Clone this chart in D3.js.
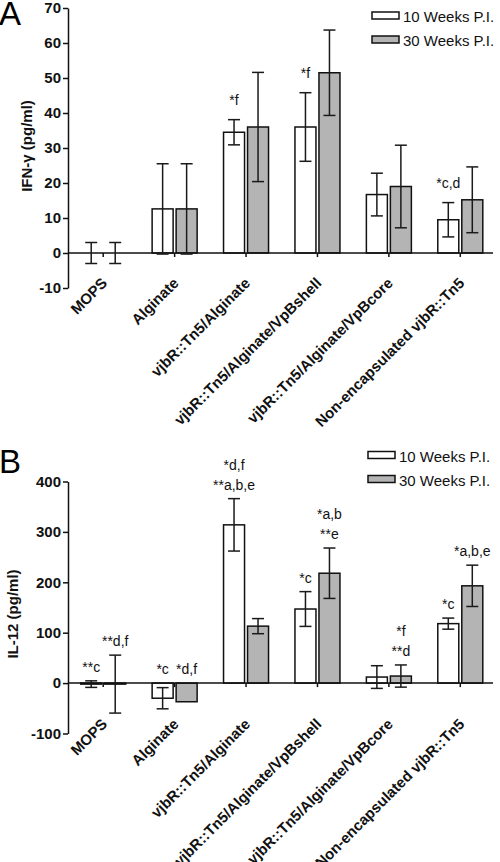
<!DOCTYPE html>
<html>
<head>
<meta charset="utf-8">
<script src="https://cdn.jsdelivr.net/npm/d3@7"></script>
<style>
  html, body { margin: 0; padding: 0; background: #fff; }
  svg { display: block; font-family: "Liberation Sans", Arial, Helvetica, sans-serif; }
</style>
</head>
<body>
<svg id="chart" width="500" height="862"></svg>
<script>
// ---------- data ----------
const categories = ["MOPS", "Alginate", "vjbR::Tn5/Alginate", "vjbR::Tn5/Alginate/VpBshell", "vjbR::Tn5/Alginate/VpBcore", "Non-encapsulated vjbR::Tn5"];
const seriesNames = ["10 Weeks P.I.", "30 Weeks P.I."];

// Panel A: IFN-gamma (pg/ml)
const ifn10 = [0, 12.6, 34.5, 36, 16.7, 9.5];
const ifn10Err = [3, 12.9, 3.6, 9.8, 6.1, 4.9];
const ifn30 = [0, 12.6, 36, 51.5, 19, 15.2];
const ifn30Err = [3, 12.9, 15.6, 12.2, 11.8, 9.4];
const ifn10Notes = [[], [], ["*f"], ["*f"], [], ["*c,d"]];
const ifn30Notes = [[], [], [], [], [], []];
const ifnTicks = [-10, 0, 10, 20, 30, 40, 50, 60, 70];

// Panel B: IL-12 (pg/ml)
const il10 = [-2, -30, 314, 147, 12, 118];
const il10Err = [6.5, 21, 52, 34.5, 22.5, 11];
const il30 = [-2, -37, 113, 218, 14, 193];
const il30Err = [57.5, 0, 15, 50, 22, 41];
const il10Notes = [["**c"], ["*c"], ["*d,f", "**a,b,e"], ["*c"], [], ["*c"]];
const il30Notes = [["**d,f"], ["*d,f"], [], ["*a,b", "**e"], ["*f", "**d"], ["*a,b,e"]];
const ilTicks = [-100, 0, 100, 200, 300, 400];

// ---------- layout ----------
const svg = d3.select("#chart");
const fillColors = ["#ffffff", "#b4b4b4"];
const font = '"Liberation Sans", Arial, Helvetica, sans-serif';

const panels = [
  { letter: "A", letterY: 25, title: "IFN-\u03b3 (pg/ml)", titleX: 32, titleY: 146,
    domain: [-10, 70], range: [288, 8], ticks: ifnTicks,
    vals: [ifn10, ifn30], errs: [ifn10Err, ifn30Err], notes: [ifn10Notes, ifn30Notes],
    legendX: 372, legendY: 12, labelY: 284, noteGap: 15 },
  { letter: "B", letterY: 473, title: "IL-12 (pg/ml)", titleX: 18, titleY: 614,
    domain: [-100, 400], range: [733.5, 481.5], ticks: ilTicks,
    vals: [il10, il30], errs: [il10Err, il30Err], notes: [il10Notes, il30Notes],
    legendX: 368, legendY: 451.5, labelY: 725, noteGap: 9 }
];

const x = d3.scaleBand().domain(categories).range([67.5, 496]).paddingInner(0).paddingOuter(0);
const barW = 21, barGap = 3;
const axisX = 68;

panels.forEach(p => {
  const g = svg.append("g");
  const y = d3.scaleLinear().domain(p.domain).range(p.range);

  // panel letter
  g.append("text").attr("x", -1).attr("y", p.letterY)
    .attr("font-size", 33).attr("fill", "#000").text(p.letter);

  // y axis
  const yAxis = g.append("g").attr("transform", `translate(${axisX},0)`)
    .call(d3.axisLeft(y).tickValues(p.ticks).tickSize(5).tickSizeOuter(0).tickPadding(2)
      .tickFormat(d => String(d)));
  yAxis.select(".domain").attr("stroke", "#111").attr("stroke-width", 1.5);
  yAxis.selectAll(".tick line").attr("stroke", "#111").attr("stroke-width", 1.5);
  yAxis.selectAll(".tick text").attr("font-size", 15).attr("font-weight", "bold")
    .attr("font-family", font).attr("fill", "#111");

  // y title
  g.append("text").attr("transform", `translate(${p.titleX},${p.titleY}) rotate(-90)`)
    .attr("text-anchor", "middle").attr("font-size", 15).attr("font-weight", "bold")
    .attr("fill", "#111").text(p.title);

  // bars
  p.vals.forEach((vals, s) => {
    const bx = c => s === 0 ? x(c) + x.bandwidth() / 2 - barGap / 2 - barW : x(c) + x.bandwidth() / 2 + barGap / 2;
    g.append("g").selectAll("rect").data(categories).join("rect")
      .attr("x", c => bx(c))
      .attr("y", (c, i) => y(Math.max(vals[i], 0)))
      .attr("width", barW)
      .attr("height", (c, i) => Math.abs(y(vals[i]) - y(0)))
      .attr("fill", fillColors[s]).attr("stroke", "#111").attr("stroke-width", 1.5);
  });

  // x axis (line at zero, ticks at category centers)
  const xAxis = g.append("g").attr("transform", `translate(0,${y(0)})`)
    .call(d3.axisBottom(x).tickSize(4).tickSizeOuter(0).tickFormat(""));
  xAxis.select(".domain").attr("stroke", "#111").attr("stroke-width", 1.5)
    .attr("d", `M${axisX},0H493`);
  xAxis.selectAll(".tick line").attr("stroke", "#111").attr("stroke-width", 1.5);

  // error bars + notes
  p.vals.forEach((vals, s) => {
    const errs = p.errs[s];
    const cx = c => x(c) + x.bandwidth() / 2 + (s === 0 ? -1 : 1) * (barGap / 2 + barW / 2);
    const eg = g.append("g").attr("stroke", "#1a1a1a").attr("stroke-width", 1.5);
    categories.forEach((c, i) => {
      const e = errs[i];
      if (e > 0) {
        const x0 = cx(c), yt = y(vals[i] + e), yb = y(vals[i] - e);
        eg.append("line").attr("x1", x0).attr("x2", x0).attr("y1", yt).attr("y2", yb);
        eg.append("line").attr("x1", x0 - 6).attr("x2", x0 + 6).attr("y1", yt).attr("y2", yt);
        eg.append("line").attr("x1", x0 - 6).attr("x2", x0 + 6).attr("y1", yb).attr("y2", yb);
      }
      const lines = p.notes[s][i];
      if (lines.length) {
        const top = y(Math.max(vals[i] + e, vals[i], 0));
        lines.forEach((t, k) => {
          g.append("text").attr("x", cx(c))
            .attr("y", top - p.noteGap - (lines.length - 1 - k) * 20)
            .attr("text-anchor", "middle").attr("font-size", 14).attr("fill", "#111").text(t);
        });
      }
    });
  });

  // category labels
  g.append("g").selectAll("text").data(categories).join("text")
    .attr("transform", c => `translate(${x(c) + x.bandwidth() / 2 + 5},${p.labelY}) rotate(-45)`)
    .attr("text-anchor", "end").attr("font-size", 15).attr("font-weight", "bold")
    .attr("fill", "#111").text(c => c);

  // legend
  seriesNames.forEach((n, s) => {
    const ly = p.legendY + s * 24;
    g.append("rect").attr("x", p.legendX).attr("y", ly).attr("width", 27).attr("height", 7)
      .attr("fill", fillColors[s]).attr("stroke", "#111").attr("stroke-width", 1.5);
    g.append("text").attr("x", p.legendX + 31).attr("y", ly + 10)
      .attr("font-size", 15).attr("fill", "#111").text(n);
  });
});
</script>
</body>
</html>
